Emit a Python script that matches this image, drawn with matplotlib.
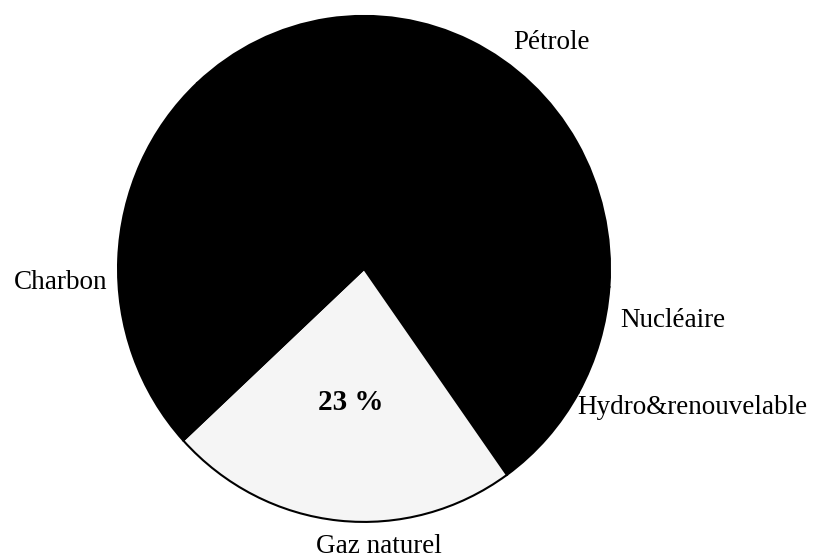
import matplotlib.pyplot as plt

# parts de l'energie primaire (%), dans le sens horaire
sources = ['Pétrole', 'Nucléaire', 'Hydro&renouvelable', 'Gaz naturel', 'Charbon']
parts = [38, 7, 7, 23, 25]
couleurs = ['black', 'black', 'black', '#f5f5f5', 'black']

# position des etiquettes (coordonnees des axes, alignement)
pos_labels = [(0.606, 0.893, 'left'), (1.041, -0.202, 'left'), (0.866, -0.549, 'left'),
              (0.061, -1.098, 'center'), (-1.045, -0.055, 'right')]

plt.rcParams['font.family'] = ['Liberation Serif', 'DejaVu Serif']

fig = plt.figure(figsize=(8.14, 5.6), dpi=100)
ax = fig.add_axes([0.145, 0.068, 0.6044, 0.9036])


def pct(p):
    # seul le gaz porte son pourcentage
    return f'{p:.0f} %' if abs(p - 23) < 0.5 else ''


wedges, texts, autotexts = ax.pie(parts, labels=sources, colors=couleurs,
                                  startangle=132.7, counterclock=False,
                                  autopct=pct, pctdistance=0.53,
                                  wedgeprops={'edgecolor': 'black', 'linewidth': 1.5},
                                  textprops={'fontsize': 19.5})

for t, (x, y, ha) in zip(texts, pos_labels):
    t.set_position((x, y))
    t.set_ha(ha)
    t.set_va('center')

for t in autotexts:
    t.set_fontsize(21)
    t.set_fontweight('bold')
    t.set_color('black')

ax.set_aspect('auto')
ax.set_xlim(-1, 1)
ax.set_ylim(-1, 1)
ax.axis('off')

fig.savefig('out.png', dpi=100)
